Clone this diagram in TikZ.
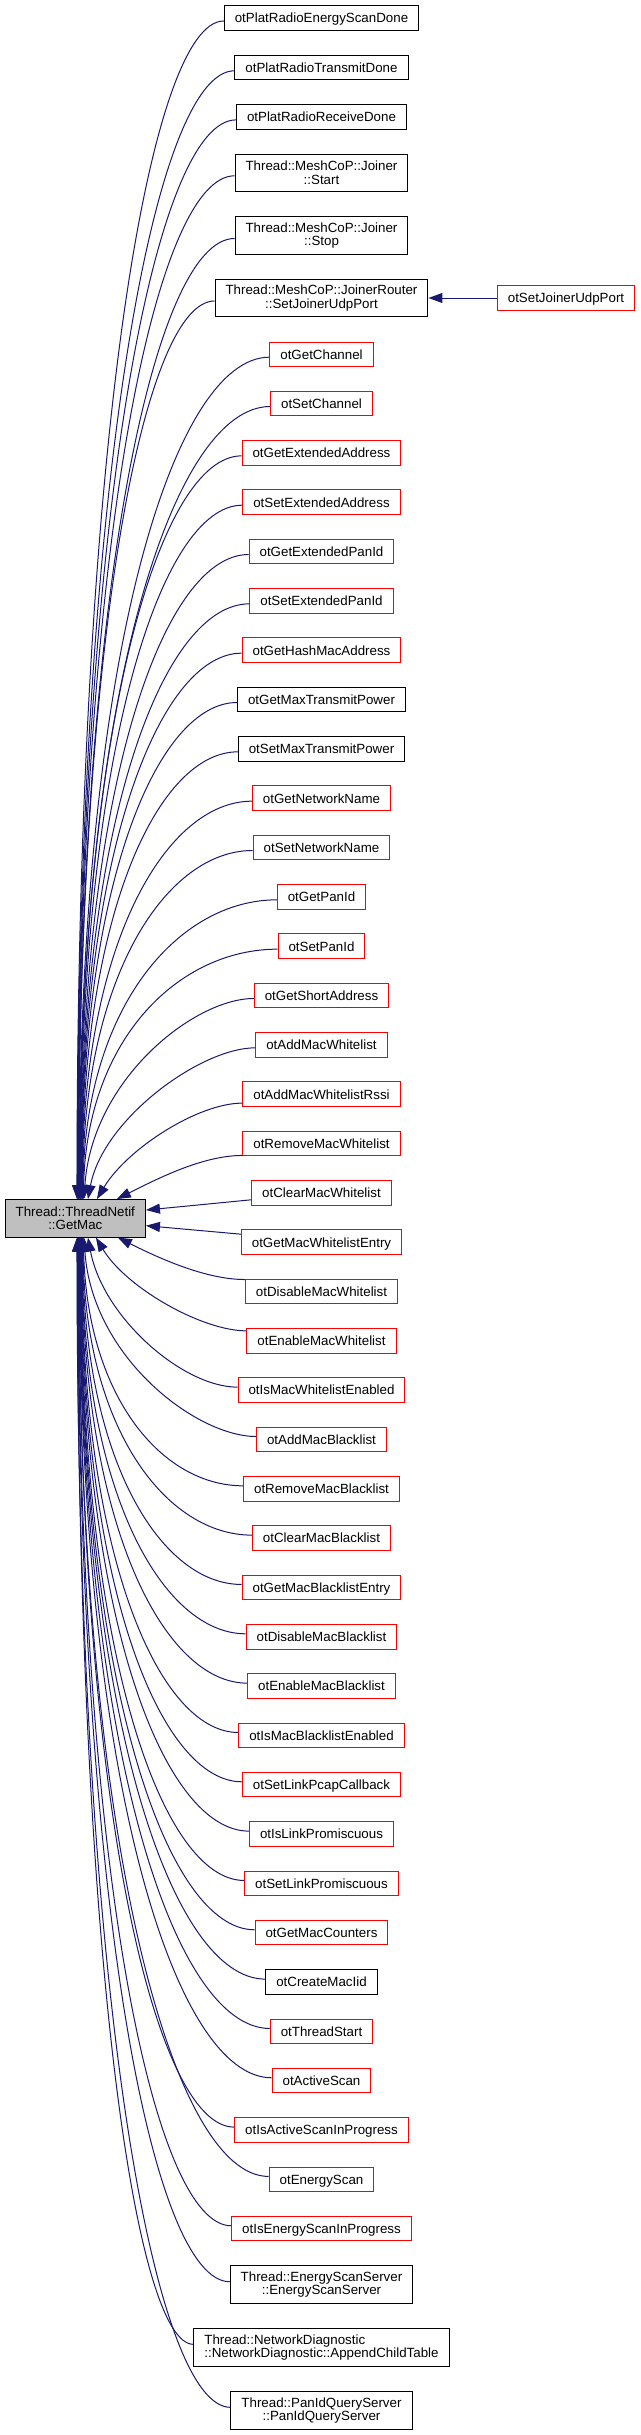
\documentclass[tikz,border=0pt]{standalone}
\usepackage{fontspec}
\setmainfont{Liberation Sans}
\usetikzlibrary{arrows.meta,calc}
\definecolor{mblue}{HTML}{191970}
\definecolor{dxred}{HTML}{FF0000}
\definecolor{dxgray}{HTML}{BFBFBF}
\newcommand\dxfont{\fontsize{13.38pt}{13.38pt}\selectfont}
\begin{document}
\begin{tikzpicture}[x=1bp,y=-1bp,
  box/.style={rectangle, line width=1bp, inner xsep=10.5bp, inner ysep=0pt, font=\dxfont},
  fn/.style={box, minimum height=24.4bp, text height=9.7bp, text depth=0pt},
  fnb/.style={fn, draw=black},
  fnr/.style={fn, draw=dxred},
  fntwo/.style={box, draw=black, minimum height=37.5bp, align=center},
  edge/.style={draw=mblue, line width=1bp, {Triangle[length=14bp,width=10bp]}-}
]
\useasboundingbox (0,0) rectangle (641,2435);

% main node
\node[fntwo, fill=dxgray] (main) at (75.3,1218.3) {Thread::ThreadNetif\\::GetMac};

% callers
\node[fnb] (n1) at (321.5,18.0) {otPlatRadioEnergyScanDone};
\node[fnb] (n2) at (321.5,67.8) {otPlatRadioTransmitDone};
\node[fnb] (n3) at (321.5,116.9) {otPlatRadioReceiveDone};
\node[fntwo] (n4) at (321.5,172.8) {Thread::MeshCoP::Joiner\\::Start};
\node[fntwo] (n5) at (321.5,235.5) {Thread::MeshCoP::Joiner\\::Stop};
\node[fntwo] (n6) at (321.5,298.0) {Thread::MeshCoP::JoinerRouter\\::SetJoinerUdpPort};
\node[fnr] (sjup) at (566,298.0) {otSetJoinerUdpPort};

\foreach \t/\c [count=\k from 7] in {otGetChannel/r,otSetChannel/r,otGetExtendedAddress/r,otSetExtendedAddress/r,otGetExtendedPanId/r,otSetExtendedPanId/r,otGetHashMacAddress/r,otGetMaxTransmitPower/b,otSetMaxTransmitPower/b,otGetNetworkName/r,otSetNetworkName/r,otGetPanId/r,otSetPanId/r,otGetShortAddress/r,otAddMacWhitelist/r,otAddMacWhitelistRssi/r,otRemoveMacWhitelist/r,otClearMacWhitelist/r,otGetMacWhitelistEntry/r,otDisableMacWhitelist/r,otEnableMacWhitelist/r,otIsMacWhitelistEnabled/r,otAddMacBlacklist/r,otRemoveMacBlacklist/r,otClearMacBlacklist/r,otGetMacBlacklistEntry/r,otDisableMacBlacklist/r,otEnableMacBlacklist/r,otIsMacBlacklistEnabled/r,otSetLinkPcapCallback/r,otIsLinkPromiscuous/r,otSetLinkPromiscuous/r,otGetMacCounters/r,otCreateMacIid/b,otThreadStart/r,otActiveScan/r,otIsActiveScanInProgress/r,otEnergyScan/r,otIsEnergyScanInProgress/r}{
  \node[fn\c] (n\k) at (321.5,{354.2+(\k-7)*49.33}) {\t};
}

\node[fntwo] (n46) at (321.5,2284.7) {Thread::EnergyScanServer\\::EnergyScanServer};
\node[fntwo, align=left] (n47) at (321.5,2347.3) {Thread::NetworkDiagnostic\\::NetworkDiagnostic::AppendChildTable};
\node[fntwo] (n48) at (321.5,2410.3) {Thread::PanIdQueryServer\\::PanIdQueryServer};

% edge between JoinerRouter and otSetJoinerUdpPort
\draw[edge] (n6.east) -- (sjup.west);

% far edges above main
\foreach \nm/\ax/\s in {n1/77/0,n2/77.3/0,n3/77.7/0,n4/78/0,n5/78.4/0,n6/78.7/0,n7/79.1/0,n8/79.4/0,n9/79.8/0,n10/80.1/0,n11/80.5/0,n12/80.8/0,n13/81.2/0,n14/81.5/0,n15/81.9/0,n16/82.2/0,n17/82.6/1,n18/82.9/2,n19/83.3/4}{
  \draw[edge] let \p1=([yshift=-3pt]\nm.west), \p2=([xshift={(\ax-75.3)*1pt}]main.north) in
    (\p2) .. controls +(\s pt,{0.65*((\y1)-(\y2))}) and +({-0.5*((\x1)-(\x2))},0pt) .. (\p1);
}
% far edges below main
\foreach \nm/\ax/\s in {n30/83.3/4,n31/82.9/2,n32/82.6/1,n33/82.2/0,n34/81.9/0,n35/81.5/0,n36/81.2/0,n37/80.8/0,n38/80.5/0,n39/80.1/0,n40/79.8/0,n41/79.4/0,n42/79.1/0,n43/78.7/0,n44/78.4/0,n45/78/0,n46/77.7/0,n47/77.3/0,n48/77/0}{
  \draw[edge] let \p1=([yshift=3pt]\nm.west), \p2=([xshift={(\ax-75.3)*1pt}]main.south) in
    (\p2) .. controls +(\s pt,{0.65*((\y1)-(\y2))}) and +({-0.5*((\x1)-(\x2))},0pt) .. (\p1);
}
% near edges
\foreach \nm/\ax/\s/\cc/\ca/\ay/\side in {n20/84/8/120/60/3/north,n21/88/15/80/55/3/north,n22/97/30/50/45/9/north,n23/117/40/20/40/12/north,n26/118/40/-20/40/-12/south,n27/96/30/-50/45/-10/south,n28/88/15/-80/55/-3/south,n29/84/8/-120/60/-3/south}{
  \draw[edge] ([xshift={(\ax-75.3)*1pt}]main.\side) .. controls +(\s pt,\cc pt) and +({-1*\ca*1pt},0pt) .. ([yshift={-1*\ay*1pt}]\nm.west);
}
% straight edges to the east side
\draw[edge] ([yshift=8.3pt]main.east) -- ([yshift=-7pt]n24.west);
\draw[edge] ([yshift=-7.4pt]main.east) -- ([yshift=8pt]n25.west);
\end{tikzpicture}
\end{document}
